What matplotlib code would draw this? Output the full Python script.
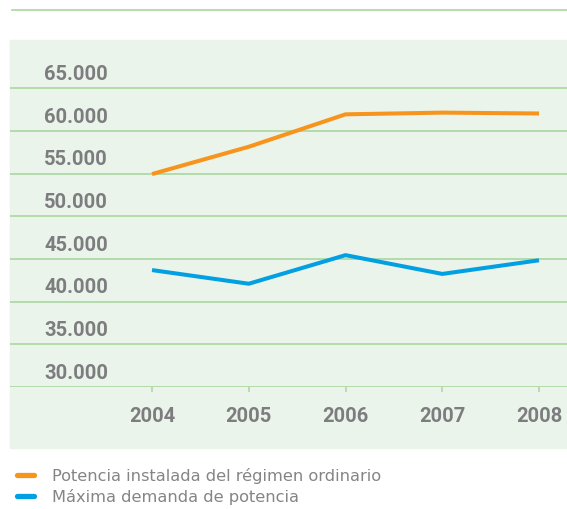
import matplotlib.pyplot as plt
from matplotlib.lines import Line2D
from matplotlib.patches import Rectangle

# Data
years = [2004, 2005, 2006, 2007, 2008]
potencia_instalada = [54950, 58150, 61950, 62150, 62050]
maxima_demanda = [43700, 42100, 45450, 43250, 44850]
y_ticks = [30000, 35000, 40000, 45000, 50000, 55000, 60000, 65000]
y_labels = ['30.000', '35.000', '40.000', '45.000', '50.000', '55.000', '60.000', '65.000']
series_names = ['Potencia instalada del régimen ordinario', 'Máxima demanda de potencia']

orange = '#f7941d'
blue = '#00a0e3'
green = '#a9d69f'
grey = '#7d7d80'
panel = '#eaf4ea'

W, H = 567, 509
fig = plt.figure(figsize=(W / 100, H / 100), dpi=100)

# light green panel behind the plot and the year labels
fig.add_artist(Rectangle((10 / W, 1 - 448 / H), 557 / W, 408 / H,
                         transform=fig.transFigure, color=panel, zorder=0))
# green rule under the (cut off) heading
fig.add_artist(Line2D([12 / W, 1], [1 - 10 / H, 1 - 10 / H],
                      transform=fig.transFigure, color=green, lw=1.2))

ax = fig.add_axes([10 / W, 1 - 387 / H, 557 / W, 347 / H])
ax.set_facecolor('none')
ax.set_xlim(2002.532, 2008.289)
ax.set_ylim(30000, 70660)

for v in y_ticks:
    ax.axhline(v, color=green, lw=1.2, zorder=1)

for v, lab in zip(y_ticks, y_labels):
    ax.annotate(lab, xy=(0, v), xycoords=('axes fraction', 'data'),
                xytext=(24.5, 10), textcoords='offset points',
                ha='left', va='center', fontsize=14.5, fontweight='bold',
                family='Roboto', color=grey)

ax.plot(years, potencia_instalada, color=orange, lw=2.9, solid_capstyle='butt', zorder=3)
ax.plot(years, maxima_demanda, color=blue, lw=2.9, solid_capstyle='butt', zorder=3)

ax.set_yticks([])
ax.set_xticks(years)
ax.set_xticklabels([str(y) for y in years], fontsize=14.5, fontweight='bold',
                   family='Roboto', color=grey)
ax.tick_params(axis='x', length=3.6, width=1.1, color=green, pad=10.8)
for s in ax.spines.values():
    s.set_visible(False)

handles = [Line2D([], [], color=orange, lw=3.8, solid_capstyle='round'),
           Line2D([], [], color=blue, lw=3.8, solid_capstyle='round')]
fig.legend(handles, series_names, loc='upper left',
           bbox_to_anchor=(17 / W, 1 - 468 / H), frameon=False,
           handlelength=1.05, handletextpad=1.1, labelspacing=0.28,
           borderpad=0, borderaxespad=0,
           prop={'family': 'DejaVu Sans', 'size': 11.7}, labelcolor='#858588')

fig.savefig('out.png', dpi=100)
